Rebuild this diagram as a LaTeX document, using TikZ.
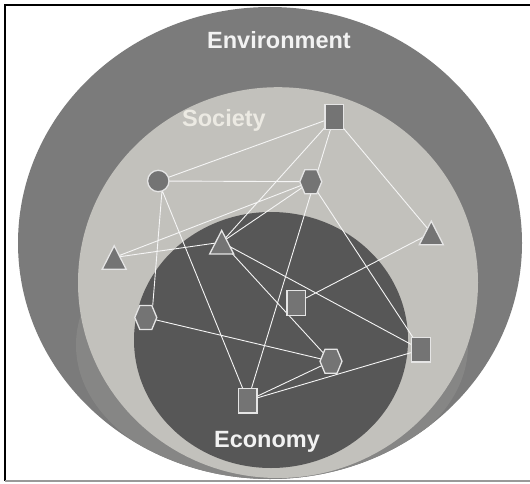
\documentclass[tikz,border=0pt]{standalone}
\usepackage{fontspec}
\setmainfont{Liberation Sans}
\definecolor{envgray}{HTML}{7B7B7B}
\definecolor{shadegray}{HTML}{868685}
\definecolor{socgray}{HTML}{C2C1BC}
\definecolor{ecogray}{HTML}{575757}
\definecolor{nodegray}{HTML}{747474}
\definecolor{socwhite}{HTML}{ECEAE3}
\pgfdeclarelayer{back}
\pgfdeclarelayer{links}
\pgfsetlayers{back,links,main}

\begin{document}
\begin{tikzpicture}[x=1pt,y=-1pt,every node/.style={inner sep=0pt,outer sep=0pt},
areatext/.style={font=\fontsize{23.5}{26}\selectfont\bfseries,text=white!95!black,anchor=base},
base/.style={fill=nodegray,draw=white!90!black,line width=1.3pt},
box/.style={base,rectangle,minimum width=18.7pt,minimum height=24.7pt},
dot/.style={base,circle,minimum size=21.4pt},
hexa/.style={rectangle,minimum width=22pt,minimum height=24pt,
  append after command={\pgfextra{\draw[base] (\tikzlastnode.west) -- ([xshift=-6pt]\tikzlastnode.north)
  -- ([xshift=6pt]\tikzlastnode.north) -- (\tikzlastnode.east) -- ([xshift=6pt]\tikzlastnode.south)
  -- ([xshift=-6pt]\tikzlastnode.south) -- cycle;}}},
tri/.style={rectangle,minimum width=24pt,minimum height=23.5pt,
  append after command={\pgfextra{\draw[base] (\tikzlastnode.north) -- (\tikzlastnode.south east)
  -- (\tikzlastnode.south west) -- cycle;}}},
link/.style={draw=white!96!black,line width=0.9pt}]
\useasboundingbox (0,0) rectangle (530,484);
\begin{pgfonlayer}{back}
\fill[white] (0,0) rectangle (530,484);
\fill[envgray] (270,243) ellipse [x radius=252pt, y radius=236pt];
\begin{scope}
\clip (270,243) ellipse [x radius=252pt, y radius=236pt];
\fill[shadegray] (272,345) ellipse [x radius=196pt, y radius=136pt];
\end{scope}
\fill[socgray] (278,282.6) ellipse [x radius=200pt, y radius=195.4pt];
\fill[ecogray] (271,340) ellipse [x radius=137pt, y radius=128pt];
\draw[line width=2pt] (530,5) -- (5,5) -- (5,481);
\draw[gray!80,line width=1.5pt] (5,481) -- (530,481);
\end{pgfonlayer}
\node[areatext] (env) at (279,49) {Environment};
\node[areatext,text=socwhite] (soc) at (224,126.5) {Society};
\node[areatext] (eco) at (267,447.5) {Economy};
\node[box] (sqtop) at (334.2,117.2) {};
\node[dot] (circ) at (158.3,181) {};
\node[hexa] (hxtop) at (310.8,181.7) {};
\node[tri] (trileft) at (114.2,257.5) {};
\node[tri] (trimid) at (221.7,242.2) {};
\node[tri] (triright) at (431.3,232.9) {};
\node[box] (sqmid) at (296.3,303) {};
\node[hexa] (hxleft) at (145.8,317.5) {};
\node[hexa] (hxlow) at (331,361.3) {};
\node[box] (sqright) at (421,349.7) {};
\node[box] (sqlow) at (247.7,400.7) {};
\begin{pgfonlayer}{links}
\draw[link] (sqtop.center) -- (circ.center) (sqtop.center) -- (trimid.center)
  (sqtop.center) -- (sqlow.center) (sqtop.center) -- (triright.center)
  (circ.center) -- (hxtop.center) (circ.-70) -- (hxleft.60) (circ.center) -- (sqlow.center)
  (hxtop.center) -- (trileft.center) (hxtop.center) -- (trimid.center) (hxtop.center) -- (sqright.center)
  (trileft.center) -- (trimid.center) (trimid.center) -- (hxlow.center) (trimid.center) -- (sqright.center)
  (triright.center) -- (sqmid.center) (hxleft.center) -- (hxlow.center)
  (sqlow.center) -- (hxlow.center) (sqlow.center) -- (sqright.center);
\end{pgfonlayer}
\end{tikzpicture}
\end{document}
